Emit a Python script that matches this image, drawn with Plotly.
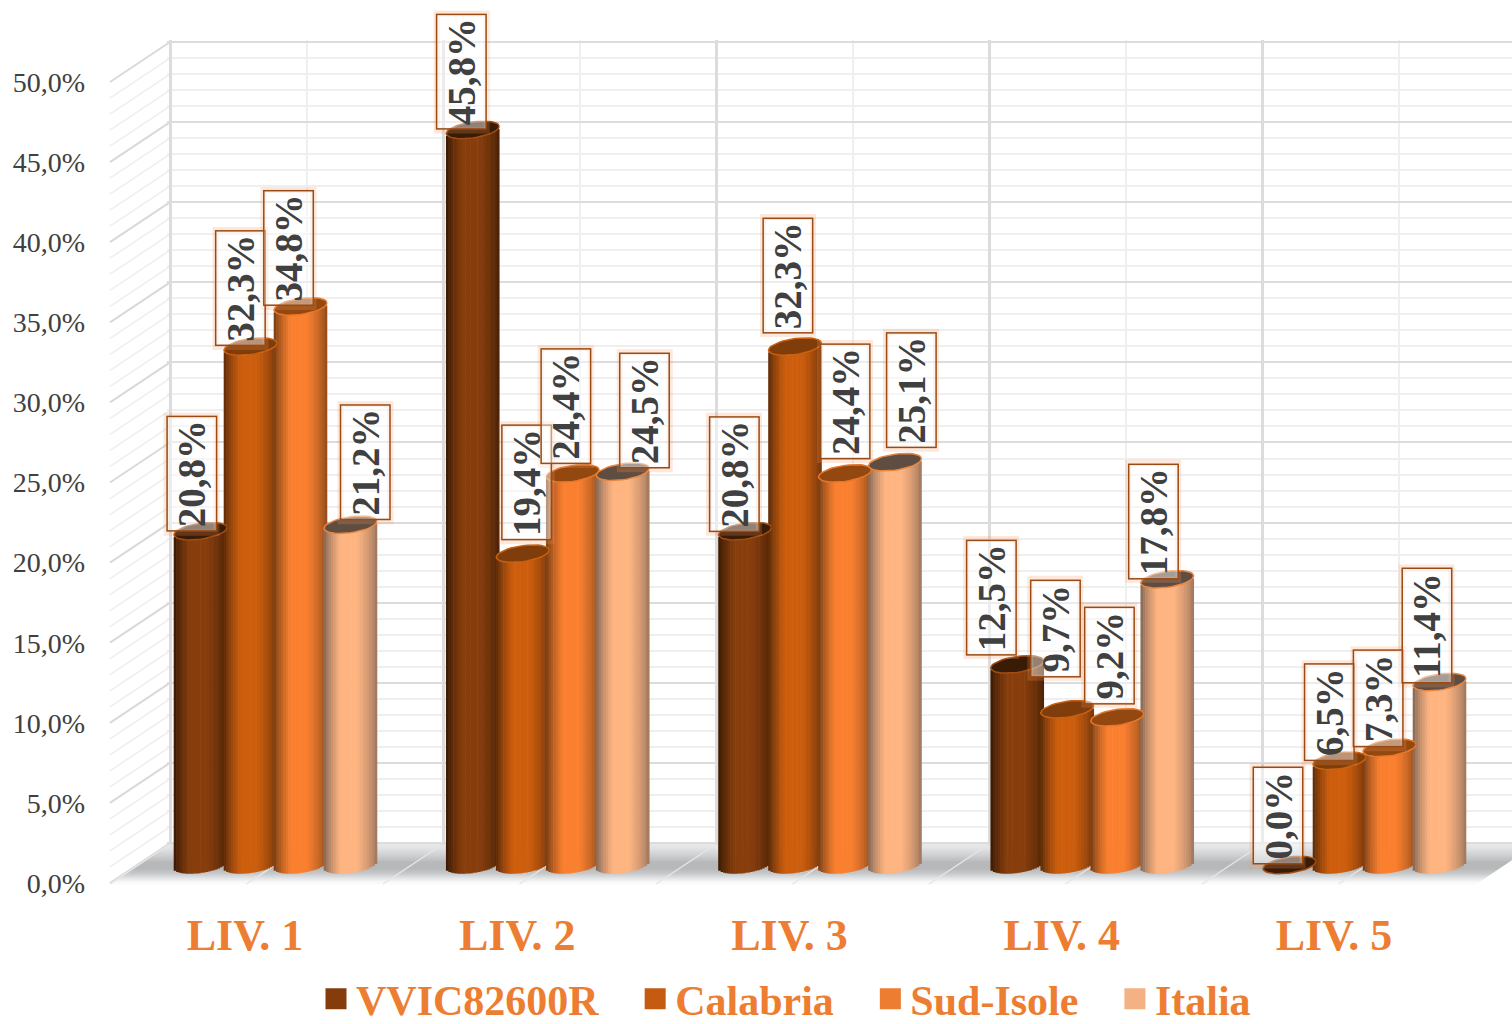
import math
import plotly.graph_objects as go

# ---------- data ----------
levels = ["LIV. 1", "LIV. 2", "LIV. 3", "LIV. 4", "LIV. 5"]
series_names = ["VVIC82600R", "Calabria", "Sud-Isole", "Italia"]
vvic = [20.8, 45.8, 20.8, 12.5, 0.0]
calabria = [32.3, 19.4, 32.3, 9.7, 6.5]
sud_isole = [34.8, 24.4, 24.4, 9.2, 7.3]
italia = [21.2, 24.5, 25.1, 17.8, 11.4]
y_ticks = [0, 5, 10, 15, 20, 25, 30, 35, 40, 45, 50]
y_tick_text = ["0,0%", "5,0%", "10,0%", "15,0%", "20,0%", "25,0%",
               "30,0%", "35,0%", "40,0%", "45,0%", "50,0%"]

# ---------- styles / layout constants ----------
W, H = 1512, 1024
SERIF = "Liberation Serif"
ORANGE = "#ED7D31"
series_values = [vvic, calabria, sud_isole, italia]
legend_cols = ["#843C0C", "#C55A11", "#ED7D31", "#F4B183"]
body_cols = [(136, 62, 12), (205, 94, 14), (250, 128, 48), (255, 181, 129)]
edge_cols = [(50, 22, 4), (80, 38, 8), (105, 55, 18), (120, 95, 80)]
cap_cols = ["#3A1B06", "#7E3D0A", "#93480F", "#5F4D42"]
rim_cols = ["#A04C12", "#C8600F", "#E8752A", "#E8853F"]

PX_PER_GROUP = 272.25
TICK1_PX = 245.0
BASE_PX = 865.0
PX_PER_PCT = 16.05
WALL_DX, WALL_DY = 60, 40
FRONT0, FRONT50 = 883.0, 82.0
BACK_X = 170.0
BAR_PX = 53.0
BAR_STEP = 50.0
GROUP_SHIFT = 30.5
ELL_H, ELL_TILT = 8.0, 3.5
N_STRIPS = 22
WALL_PAD_V = 0.15          # value units kept beyond the wall so its edge grid lines are drawn
WALL_PAD_G = 0.01          # same, in group units
WALL_GROUP_PX = 273.0

# label box offsets (pixels, relative to the top of each cylinder)
label_dx = [[-9, -11, -11, -26, -12], [-10, 4, -7, -12, -10],
            [-12, -7, 0, -8, -11], [15, 22, 16, -14, -13]]
label_dy = [[57, 58, 57, 67, 49], [58, 71, 71, 81, 48],
            [58, 67, 72, 62, 49], [62, 61, 72, 58, 56]]


def bar_x(group, s):
    return group + (GROUP_SHIFT + (s - 1.5) * BAR_STEP) / PX_PER_GROUP


def mix(t, body, edge):
    # cylinder shading: dark left edge, bright middle, darker right edge
    u = (t + 1) / 2
    if u < 0.32:
        k = (u / 0.32) ** 0.7
    elif u > 0.62:
        k = ((1 - u) / 0.38) ** 0.6
        k = 0.18 + 0.82 * k
    else:
        k = 1
    return "rgb(%d,%d,%d)" % tuple(round(e + (b - e) * k) for b, e in zip(body, edge))


fig = go.Figure()

# back wall subplot
fig.add_trace(go.Scatter(x=[None], y=[None], xaxis="x", yaxis="y", showlegend=False, hoverinfo="skip"))
# y tick-label axis
fig.add_trace(go.Scatter(x=[None], y=[None], xaxis="x2", yaxis="y3", showlegend=False, hoverinfo="skip"))

# cylinders, built of narrow bars that share the value arrays
for s, vals in enumerate(series_values):
    for j in range(N_STRIPS):
        t = -1 + (2 * j + 1) / N_STRIPS
        drop = (-ELL_H * math.sqrt(max(0, 1 - t * t)) + ELL_TILT * t) / PX_PER_PCT
        xs = [bar_x(g, s) + t * BAR_PX / 2 / PX_PER_GROUP for g in range(len(levels))]
        fig.add_trace(go.Bar(
            x=xs, y=vals, base=[drop] * len(vals), xaxis="x2", yaxis="y2",
            width=BAR_PX / N_STRIPS * 1.25 / PX_PER_GROUP,
            marker=dict(color=mix(t, body_cols[s], edge_cols[s]), line=dict(width=0)),
            showlegend=False, hoverinfo="skip",
        ))

# cylinder tops
for s, vals in enumerate(series_values):
    cx, cy = [], []
    for g, v in enumerate(vals):
        for k in range(41):
            a = 2 * math.pi * k / 40
            cx.append(bar_x(g, s) + math.cos(a) * BAR_PX / 2 / PX_PER_GROUP)
            cy.append(v + (ELL_H * math.sin(a) + ELL_TILT * math.cos(a)) / PX_PER_PCT)
        cx.append(None)
        cy.append(None)
    fig.add_trace(go.Scatter(
        x=cx, y=cy, xaxis="x2", yaxis="y2", mode="lines", fill="toself",
        fillcolor=cap_cols[s], line=dict(color=rim_cols[s], width=1.5),
        showlegend=False, hoverinfo="skip",
    ))

# legend entries
for s, name in enumerate(series_names):
    fig.add_trace(go.Scatter(
        x=[None], y=[None], xaxis="x2", yaxis="y2", mode="markers", name=name + "\u00a0\u00a0\u00a0",
        marker=dict(symbol="square", size=16, color=legend_cols[s],
                    line=dict(color=legend_cols[s], width=5)),
        hoverinfo="skip",
    ))

shapes = []
def px(x): return x / W
def py(y): return 1 - y / H

# floor band, fading from the back wall to the front
floor_stops = [(843, 232), (848, 224), (855, 205), (862, 182), (868, 182), (873, 198), (877, 222), (881, 244), (884, 252)]
for (top, c0), (bot0, c1) in zip(floor_stops[:-1], floor_stops[1:]):
    for i in range(bot0 - top):
        yt, yb = top + i, top + i + 1.4
        c = round(c0 + (c1 - c0) * i / (bot0 - top))
        col = f"rgb({c},{c + 2},{c + 3})"
        ltop = 170 - (yt - 843) * 1.5
        lbot = 170 - (yb - 843) * 1.5
        rtop = 1512 - max(0, yt - 860) * 1.5
        rbot = 1512 - max(0, yb - 860) * 1.5
        shapes.append(dict(type="path", xref="paper", yref="paper", layer="below", line=dict(width=0), fillcolor=col,
                           path=f"M{px(ltop)},{py(yt)} L{px(rtop)},{py(yt)} L{px(rbot)},{py(yb)} L{px(lbot)},{py(yb)} Z"))

# left wall and floor diagonals
for v in range(0, 51):
    major = v % 5 == 0
    yf = FRONT0 + (FRONT50 - FRONT0) * v / 50
    shapes.append(dict(type="line", xref="paper", yref="paper", layer="below",
                       x0=px(BACK_X - WALL_DX), y0=py(yf), x1=px(BACK_X), y1=py(yf - WALL_DY),
                       line=dict(color="#D9D9D9" if major else "#EEEEEE", width=2 if major else 1.5)))
for g in range(0, 10):
    xb = BACK_X + g * 136.5
    if xb - WALL_DX > W:
        continue
    shapes.append(dict(type="line", xref="paper", yref="paper", layer="below",
                       x0=px(xb - WALL_DX), y0=py(884), x1=px(xb), y1=py(844),
                       line=dict(color="#E6E6E6", width=1.5)))

# data-label boxes with their soft glow
annotations = []
for s, vals in enumerate(series_values):
    for g, v in enumerate(vals):
        dx, dy = label_dx[s][g], label_dy[s][g]
        text = f"{v:.1f}%".replace(".", ",")
        long_box = len(text) > 4
        box_h = 117 if long_box else 99
        xc = bar_x(g, s) + dx / PX_PER_GROUP
        yc = v + dy / PX_PER_PCT
        shapes.append(dict(type="rect", xref="x2", yref="y2", layer="above",
                           x0=xc - 25 / PX_PER_GROUP, x1=xc + 25 / PX_PER_GROUP,
                           y0=yc - box_h / 2 / PX_PER_PCT, y1=yc + box_h / 2 / PX_PER_PCT,
                           line=dict(color="rgba(245,150,90,0.22)", width=6)))
        annotations.append(dict(
            x=bar_x(g, s), y=v, xref="x2", yref="y2", xshift=dx, yshift=dy,
            text=f"<b>{text}</b>", showarrow=False, textangle=-90,
            width=box_h - 6, height=46, xanchor="center", yanchor="middle",
            align="center", valign="middle",
            font=dict(family=SERIF, size=39, color="#404040"),
            bgcolor="rgba(255,255,255,0.45)", bordercolor="#9A4A14", borderwidth=1.5, borderpad=1,
        ))

wall_px_v = (FRONT0 - FRONT50) / 50 * WALL_PAD_V
wall_px_g = WALL_GROUP_PX * WALL_PAD_G

fig.update_layout(
    width=W, height=H, margin=dict(l=0, r=0, t=0, b=0, pad=0, autoexpand=False), autosize=False,
    paper_bgcolor="white", plot_bgcolor="rgba(0,0,0,0)", barmode="overlay",
    font=dict(family=SERIF), shapes=shapes, annotations=annotations, hovermode=False,
    legend=dict(orientation="h", x=802 / W, xanchor="center", y=-9 / H, yanchor="bottom",
                font=dict(family=SERIF, size=42, color=ORANGE, weight="bold"),
                bgcolor="rgba(0,0,0,0)", itemsizing="trace"),
    # back wall
    xaxis=dict(domain=[(BACK_X - wall_px_g) / W, 1], range=[-WALL_PAD_G, (W - BACK_X) / WALL_GROUP_PX], anchor="y",
               dtick=1, tick0=0, showgrid=True, gridcolor="#DCDCDC", gridwidth=2.5, showticklabels=False, ticks="",
               zeroline=False, minor=dict(dtick=0.5, showgrid=True, gridcolor="#EFEFEF", gridwidth=1.5), fixedrange=True),
    yaxis=dict(domain=[py(FRONT0 - WALL_DY + wall_px_v), py(FRONT50 - WALL_DY - wall_px_v)],
               range=[-WALL_PAD_V, 50 + WALL_PAD_V], anchor="x", dtick=5, tick0=0,
               showgrid=True, gridcolor="#DCDCDC", gridwidth=2, showticklabels=False, ticks="", zeroline=False,
               minor=dict(dtick=1, showgrid=True, gridcolor="#EFEFEF", gridwidth=1.5), fixedrange=True),
    # cylinders and category labels
    xaxis2=dict(domain=[0, 1], range=[-TICK1_PX / PX_PER_GROUP, (W - TICK1_PX) / PX_PER_GROUP],
                anchor="free", position=py(FRONT0), tickmode="array", tickvals=list(range(len(levels))),
                ticktext=levels, showgrid=False, zeroline=False, ticks="outside", ticklen=13,
                tickcolor="rgba(0,0,0,0)", showline=False,
                tickfont=dict(family=SERIF, size=44, color=ORANGE, weight="bold"), fixedrange=True),
    yaxis2=dict(domain=[0, 1], range=[-(H - BASE_PX) / PX_PER_PCT, BASE_PX / PX_PER_PCT], anchor="x2",
                visible=False, fixedrange=True),
    # value labels
    yaxis3=dict(domain=[py(FRONT0), py(FRONT50)], range=[0, 50], anchor="free", position=85 / W, side="left",
                tickmode="array", tickvals=y_ticks, ticktext=y_tick_text, showgrid=False, zeroline=False,
                showline=False, ticks="", tickfont=dict(family=SERIF, size=28, color="#404040"), fixedrange=True),
)

fig.write_html("out.html", post_script="document.body.style.margin='0';document.documentElement.style.overflow='hidden';",
               config={"displayModeBar": False})
